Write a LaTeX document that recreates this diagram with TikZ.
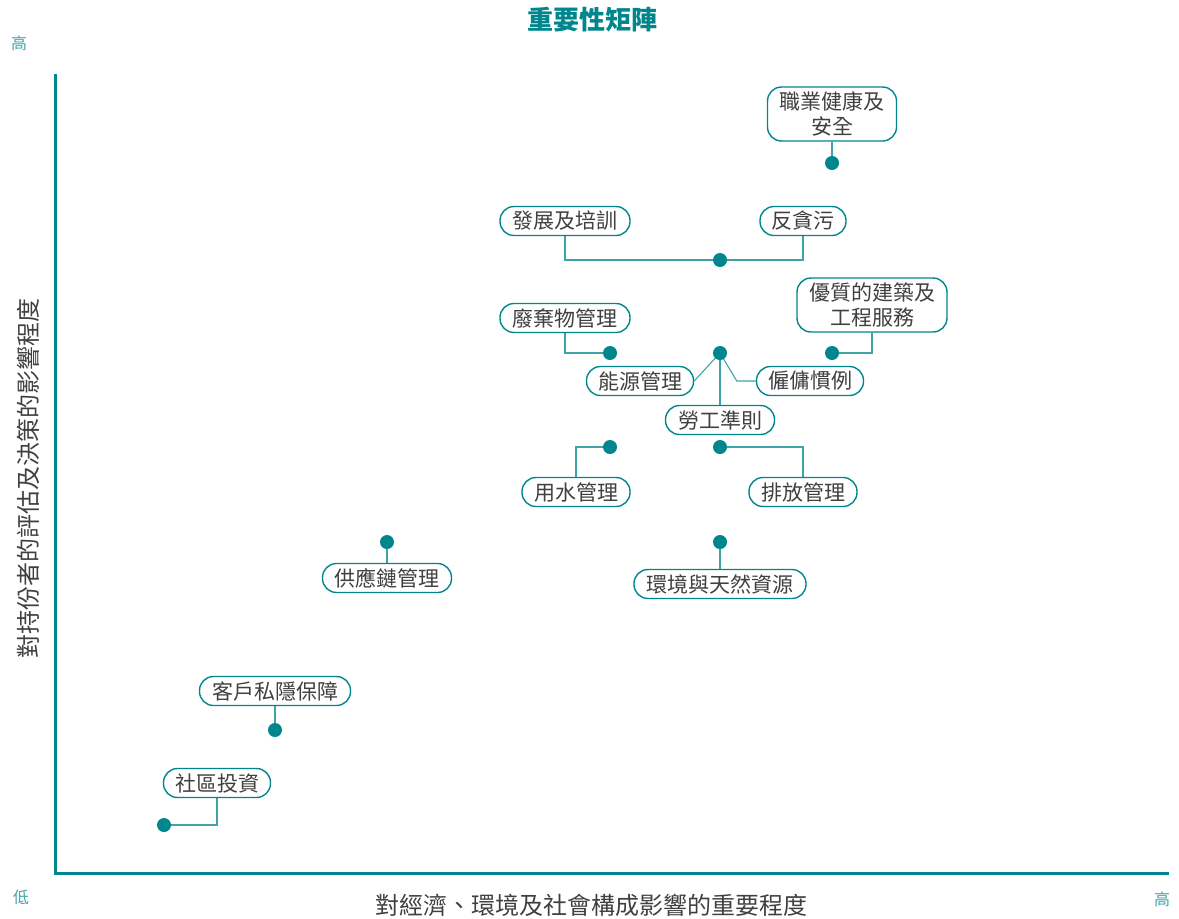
\documentclass[tikz,border=0pt]{standalone}
\usepackage{fontspec}
\setmainfont{Noto Sans CJK TC}
\usetikzlibrary{backgrounds}
\definecolor{teal1}{HTML}{00868C}
\definecolor{teallt}{HTML}{3FA3A8}
\definecolor{txt}{HTML}{404040}
\begin{document}
\begin{tikzpicture}[x=1pt,y=-1pt,
  box/.style={draw=teal1,line width=1.4pt,rounded corners=14pt,fill=white,text=txt,
    minimum height=29pt,inner sep=0pt,align=center,font=\fontsize{21}{25}\selectfont},
  dot/.style={circle,fill=teal1,minimum size=14pt,inner sep=0pt},
  conn/.style={draw=teallt,line width=1.1pt},
  axis/.style={draw=teal1,line width=3pt},
  endlbl/.style={text=teallt,font=\fontsize{16}{19}\selectfont}]
\useasboundingbox (0,0) rectangle (1179,919);
% title and axes
\node[text=teal1,font=\fontsize{26}{30}\selectfont\bfseries] (title) at (592,20) {重要性矩陣};
\coordinate (otop) at (55,75);
\coordinate (orig) at (55,873);
\coordinate (oright) at (1167,873);
\draw[axis,line cap=rect] (otop) -- (orig) -- (oright);
\node[endlbl] (yhi) at (19,43) {高};
\node[endlbl] (ylo) at (21,897) {低};
\node[endlbl] (xhi) at (1162,899) {高};
\node[text=txt,font=\fontsize{24}{28}\selectfont] (xlab) at (591,905) {對經濟、環境及社會構成影響的重要程度};
\node[text=txt,font=\fontsize{24}{28}\selectfont,rotate=90] (ylab) at (28,478) {對持份者的評估及決策的影響程度};
% boxes
\node[box,minimum width=129pt,minimum height=54pt] (ohs) at (832,114) {職業健康及\\安全};
\node[box,minimum width=130pt] (dev) at (565,221) {發展及培訓};
\node[box,minimum width=86pt] (anti) at (803,221) {反貪污};
\node[box,minimum width=130pt] (waste) at (565,318) {廢棄物管理};
\node[box,minimum width=150pt,minimum height=54pt] (qual) at (872,305) {優質的建築及\\工程服務};
\node[box,minimum width=107pt] (energy) at (640,381) {能源管理};
\node[box,minimum width=107pt] (empl) at (810,381) {僱傭慣例};
\node[box,minimum width=109pt] (labour) at (720,420) {勞工準則};
\node[box,minimum width=108pt] (water) at (576,492) {用水管理};
\node[box,minimum width=108pt] (emis) at (803,492) {排放管理};
\node[box,minimum width=129pt] (supply) at (387,578) {供應鏈管理};
\node[box,minimum width=172pt] (env) at (720,584) {環境與天然資源};
\node[box,minimum width=151pt] (priv) at (275,691) {客戶私隱保障};
\node[box,minimum width=107pt] (comm) at (217,783) {社區投資};
% dots
\node[dot] (d1) at (832,163) {};
\node[dot] (d2) at (720,260) {};
\node[dot] (d3) at (610,353) {};
\node[dot] (d4) at (720,353) {};
\node[dot] (d5) at (832,353) {};
\node[dot] (d6) at (610,447) {};
\node[dot] (d7) at (720,447) {};
\node[dot] (d8) at (387,542) {};
\node[dot] (d9) at (720,542) {};
\node[dot] (d10) at (275,730) {};
\node[dot] (d11) at (164,825) {};
% connectors
\begin{scope}[on background layer]
\draw[conn] (ohs.south) -- (d1.center);
\draw[conn] (dev.south) |- (d2.center) -| (anti.south);
\draw[conn] (waste.south) |- (d3.center);
\draw[conn] (qual.south) |- (d5.center);
\draw[conn] (d4.center) -- (energy.east);
\draw[conn] (d4.center) -- (labour.north);
\draw[conn] (d4.center) -- ([xshift=-19pt]empl.west) -- (empl.west);
\draw[conn] (d6.center) -| (water.north);
\draw[conn] (d7.center) -| (emis.north);
\draw[conn] (d8.center) -- (supply.north);
\draw[conn] (d9.center) -- (env.north);
\draw[conn] (priv.south) -- (d10.center);
\draw[conn] (comm.south) |- (d11.center);
\end{scope}
\end{tikzpicture}
\end{document}
